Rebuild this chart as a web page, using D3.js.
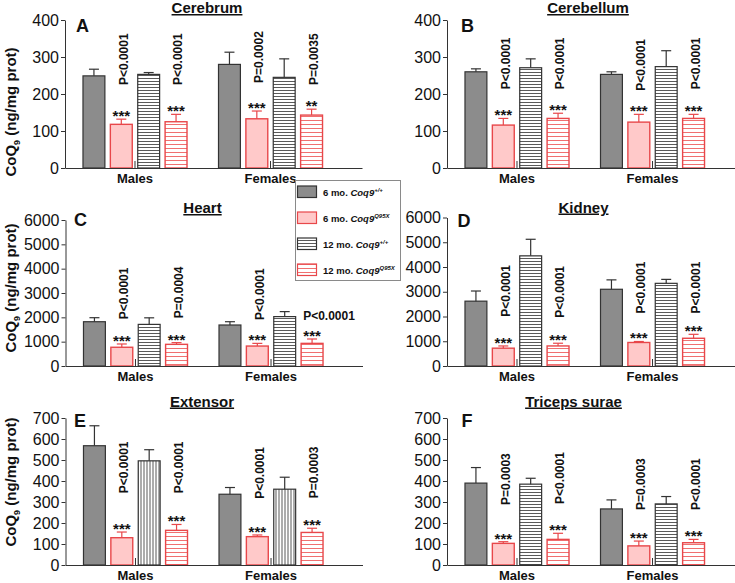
<!DOCTYPE html>
<html><head><meta charset="utf-8">
<script src="https://cdn.jsdelivr.net/npm/d3@7"></script>
<style>
body{margin:0;background:#fff}
svg{display:block}
text{font-family:"Liberation Sans",Arial,Helvetica,sans-serif}
</style>
</head><body>
<svg id="chart" width="735" height="583"></svg>
<script>
// ---------- DATA ----------
const groups = ["Males", "Females"];
const seriesKeys = ["wt6", "mut6", "wt12", "mut12"];
const legendAge = ["6 mo. ", "6 mo. ", "12 mo. ", "12 mo. "];
const legendGene = ["Coq9", "Coq9", "Coq9", "Coq9"];
const legendGenotype = ["+/+", "Q95X", "+/+", "Q95X"];

const panelLetters = ["A", "B", "C", "D", "E", "F"];
const panelTitles = ["Cerebrum", "Cerebellum", "Heart", "Kidney", "Extensor", "Triceps surae"];
const yMaxes = [400, 400, 6000, 6000, 700, 700];
const yTickSteps = [100, 100, 1000, 1000, 100, 100];
const yAxisTitle = ["CoQ", "9", " (ng/mg prot)"];

// means / SEM: [Males: wt6, mut6, wt12, mut12], [Females: ...]
const cerebrumMeans = [[249, 118, 253, 125], [280, 133, 245, 143]];
const cerebrumErrors = [[18, 14, 5, 20], [33, 21, 50, 16]];
const cerebellumMeans = [[260, 116, 271, 134], [253, 124, 274, 134]];
const cerebellumErrors = [[8, 18, 24, 14], [7, 21, 43, 11]];
const heartMeans = [[1820, 770, 1710, 890], [1685, 820, 2030, 930]];
const heartErrors = [[165, 135, 270, 70], [135, 110, 205, 180]];
const kidneyMeans = [[2620, 720, 4450, 810], [3100, 950, 3340, 1120]];
const kidneyErrors = [[410, 90, 670, 110], [380, 40, 160, 160]];
const extensorMeans = [[568, 130, 496, 165], [337, 135, 361, 155]];
const extensorErrors = [[95, 27, 53, 28], [32, 8, 57, 20]];
const tricepsMeans = [[390, 103, 385, 122], [267, 91, 291, 106]];
const tricepsErrors = [[74, 8, 28, 29], [43, 23, 35, 16]];

// significance marks on the mutant bars [mut6, mut12]
const cerebrumStars = [["***", "***"], ["***", "**"]];
const cerebellumStars = [["***", "***"], ["***", "***"]];
const heartStars = [["***", "***"], ["***", "***"]];
const kidneyStars = [["***", "***"], ["***", "***"]];
const extensorStars = [["***", "***"], ["***", "***"]];
const tricepsStars = [["***", "***"], ["***", "***"]];

// P values [mut6, mut12] per group
const cerebrumP = [["P<0.0001", "P<0.0001"], ["P=0.0002", "P=0.0035"]];
const cerebellumP = [["P<0.0001", "P<0.0001"], ["P<0.0001", "P<0.0001"]];
const heartP = [["P<0.0001", "P=0.0004"], ["P<0.0001", "P<0.0001"]];
const kidneyP = [["P<0.0001", "P<0.0001"], ["P<0.0001", "P<0.0001"]];
const extensorP = [["P<0.0001", "P<0.0001"], ["P<0.0001", "P=0.0003"]];
const tricepsP = [["P=0.0003", "P<0.0001"], ["P=0.0003", "P<0.0001"]];
// value level where each P label begins
const cerebrumPLevel = [[224, 224], [230, 224]];
const cerebellumPLevel = [[213, 213], [209, 213]];
const heartPLevel = [[1920, 1960], [1890, 1890]];
const kidneyPLevel = [[1990, 1950], [2125, 2125]];
const extensorPLevel = [[342, 342], [315, 318]];
const tricepsPLevel = [[286, 291], [262, 262]];
// P labels written horizontally (rest are vertical)
const heartPHorizontal = [[false, false], [false, true]];

// ---------- LAYOUT / STYLE ----------
const panels = [
  {means: cerebrumMeans, errs: cerebrumErrors, stars: cerebrumStars, p: cerebrumP, pLevel: cerebrumPLevel},
  {means: cerebellumMeans, errs: cerebellumErrors, stars: cerebellumStars, p: cerebellumP, pLevel: cerebellumPLevel},
  {means: heartMeans, errs: heartErrors, stars: heartStars, p: heartP, pLevel: heartPLevel, pHoriz: heartPHorizontal},
  {means: kidneyMeans, errs: kidneyErrors, stars: kidneyStars, p: kidneyP, pLevel: kidneyPLevel},
  {means: extensorMeans, errs: extensorErrors, stars: extensorStars, p: extensorP, pLevel: extensorPLevel, vertical: true},
  {means: tricepsMeans, errs: tricepsErrors, stars: tricepsStars, p: tricepsP, pLevel: tricepsPLevel}
];
const layout = [
  {x: 65, top: 20, bottom: 168, titleX: 207, titleY: 13, letX: 76, letY: 32, labY: 112},
  {x: 447, top: 20, bottom: 168, titleX: 588, titleY: 13, letX: 461, letY: 32},
  {x: 65.5, top: 220, bottom: 366, titleX: 202.5, titleY: 213, letX: 74, letY: 226, labY: 288},
  {x: 447, top: 217.5, bottom: 366, titleX: 583.5, titleY: 212.5, letX: 457.5, letY: 227},
  {x: 65.5, top: 418, bottom: 565, titleX: 202, titleY: 406.5, letX: 74, letY: 427, labY: 482},
  {x: 447, top: 418, bottom: 565, titleX: 573.5, titleY: 406.5, letX: 461.5, letY: 427}
];
const axisLen = 297;
const GRAY = "#8c8c8c", DARK = "#333", PINK = "#ffc9c9", RED = "#e8474a", REDLINE = "#f07070";

const svg = d3.select("#chart");
const defs = svg.append("defs");
function stripes(id, color, period, vertical) {
  const p = defs.append("pattern").attr("id", id).attr("patternUnits", "userSpaceOnUse")
    .attr("width", vertical ? period : 8).attr("height", vertical ? 8 : period);
  p.append("rect").attr("width", 8).attr("height", 8).attr("fill", "#fff");
  if (vertical) p.append("line").attr("x1", 0.5).attr("x2", 0.5).attr("y1", 0).attr("y2", 8).attr("stroke", color).attr("stroke-width", 1);
  else p.append("line").attr("x1", 0).attr("x2", 8).attr("y1", 0.5).attr("y2", 0.5).attr("stroke", color).attr("stroke-width", 1);
}
stripes("hBlack", "#5a5a5a", 3, false);
stripes("vBlack", "#5a5a5a", 3, true);
stripes("hRed", REDLINE, 4, false);

function fillFor(i, vertical) {
  return [GRAY, PINK, vertical ? "url(#vBlack)" : "url(#hBlack)", "url(#hRed)"][i];
}
function strokeFor(i) { return [DARK, RED, DARK, RED][i]; }

const x0 = d3.scaleBand().domain(groups).range([0, axisLen])
  .paddingInner(0.2325).paddingOuter(0.212).align(0.313);
const x1 = d3.scaleBand().domain(seriesKeys).range([0, x0.bandwidth()]).paddingInner(0.2);

panels.forEach((pd, k) => {
  const L = layout[k];
  const g = svg.append("g").attr("transform", `translate(${L.x},0)`);
  const y = d3.scaleLinear().domain([0, yMaxes[k]]).range([L.bottom, L.top]);
  const ticks = d3.range(0, yMaxes[k] + 1, yTickSteps[k]);

  // y axis
  const ya = g.append("g").call(d3.axisLeft(y).tickValues(ticks).tickSize(4).tickPadding(2).tickSizeOuter(0).tickFormat(d3.format("d")));
  ya.selectAll("text").attr("font-size", 16).attr("fill", "#111").attr("font-family", "'Liberation Sans',Arial,sans-serif");
  ya.selectAll("line,path").attr("stroke", DARK);

  // bars
  pd.means.forEach((vals, gi) => {
    const gx = x0(groups[gi]);
    vals.forEach((v, si) => {
      const bx = gx + x1(seriesKeys[si]);
      const bw = x1.bandwidth();
      g.append("rect").attr("x", bx).attr("y", y(v)).attr("width", bw).attr("height", y(0) - y(v))
        .attr("fill", fillFor(si, pd.vertical)).attr("stroke", strokeFor(si)).attr("stroke-width", si % 2 ? 1.4 : 1.2);
      const e = pd.errs[gi][si];
      const cx = bx + bw / 2;
      g.append("line").attr("x1", cx).attr("x2", cx).attr("y1", y(v)).attr("y2", y(v + e)).attr("stroke", strokeFor(si)).attr("stroke-width", 1.2);
      g.append("line").attr("x1", cx - 5).attr("x2", cx + 5).attr("y1", y(v + e)).attr("y2", y(v + e)).attr("stroke", strokeFor(si)).attr("stroke-width", 1.2);
      if (si % 2 === 1) {
        const j = (si - 1) / 2;
        g.append("text").attr("x", cx).attr("y", y(v + e) + 2).attr("text-anchor", "middle")
          .attr("font-size", 15).attr("font-weight", "bold").attr("fill", "#111").text(pd.stars[gi][j]);
        const horiz = pd.pHoriz && pd.pHoriz[gi][j];
        const py = y(pd.pLevel[gi][j]);
        if (horiz) {
          g.append("text").attr("x", bx + 2).attr("y", py).attr("font-size", 12).attr("font-weight", "bold")
            .attr("fill", "#111").text(pd.p[gi][j]);
        } else {
          g.append("text").attr("transform", `translate(${cx + 2},${py}) rotate(-90)`).attr("dy", "0.35em")
            .attr("font-size", 12).attr("font-weight", "bold").attr("fill", "#111").text(pd.p[gi][j]);
        }
      }
    });
  });

  // x axis
  const xa = g.append("g").attr("transform", `translate(0,${L.bottom})`)
    .call(d3.axisBottom(x0).tickSize(-7).tickSizeOuter(0).tickPadding(5.5));
  xa.selectAll("line,path").attr("stroke", DARK);
  xa.selectAll("text").attr("font-size", 13).attr("font-weight", "bold").attr("fill", "#111")
    .attr("font-family", "'Liberation Sans',Arial,sans-serif");

  // titles
  svg.append("text").attr("x", L.titleX).attr("y", L.titleY).attr("text-anchor", "middle")
    .attr("font-size", 15).attr("font-weight", "bold").attr("text-decoration", "underline").attr("fill", "#111").text(panelTitles[k]);
  svg.append("text").attr("x", L.letX).attr("y", L.letY).attr("font-size", 18).attr("font-weight", "bold")
    .attr("fill", "#111").text(panelLetters[k]);

  if (L.labY !== undefined) {
    const t = svg.append("text").attr("transform", `translate(11,${L.labY}) rotate(-90)`).attr("text-anchor", "middle")
      .attr("dy", "0.35em").attr("font-size", 15).attr("font-weight", "bold").attr("fill", "#111");
    t.append("tspan").text(yAxisTitle[0]);
    t.append("tspan").attr("font-size", 9).attr("dy", 4).text(yAxisTitle[1]);
    t.append("tspan").attr("dy", -4).text(yAxisTitle[2]);
  }
});

// legend
const lg = svg.append("g");
lg.append("rect").attr("x", 295.5).attr("y", 180.5).attr("width", 105).attr("height", 100)
  .attr("fill", "#fff").attr("stroke", "#8a8a8a").attr("stroke-width", 1);
seriesKeys.forEach((s, i) => {
  const yy = 186 + i * 26;
  lg.append("rect").attr("x", 297.5).attr("y", yy).attr("width", 19).attr("height", 11.5)
    .attr("fill", fillFor(i, false)).attr("stroke", strokeFor(i)).attr("stroke-width", 1.2);
  const t = lg.append("text").attr("x", 323).attr("y", yy + 9.5).attr("font-size", 9.5).attr("font-weight", "bold").attr("fill", "#111");
  t.append("tspan").text(legendAge[i]);
  t.append("tspan").attr("font-style", "italic").text(legendGene[i]);
  t.append("tspan").attr("font-style", "italic").attr("font-size", 6).attr("dy", -4).text(legendGenotype[i]);
});
</script>
</body></html>
